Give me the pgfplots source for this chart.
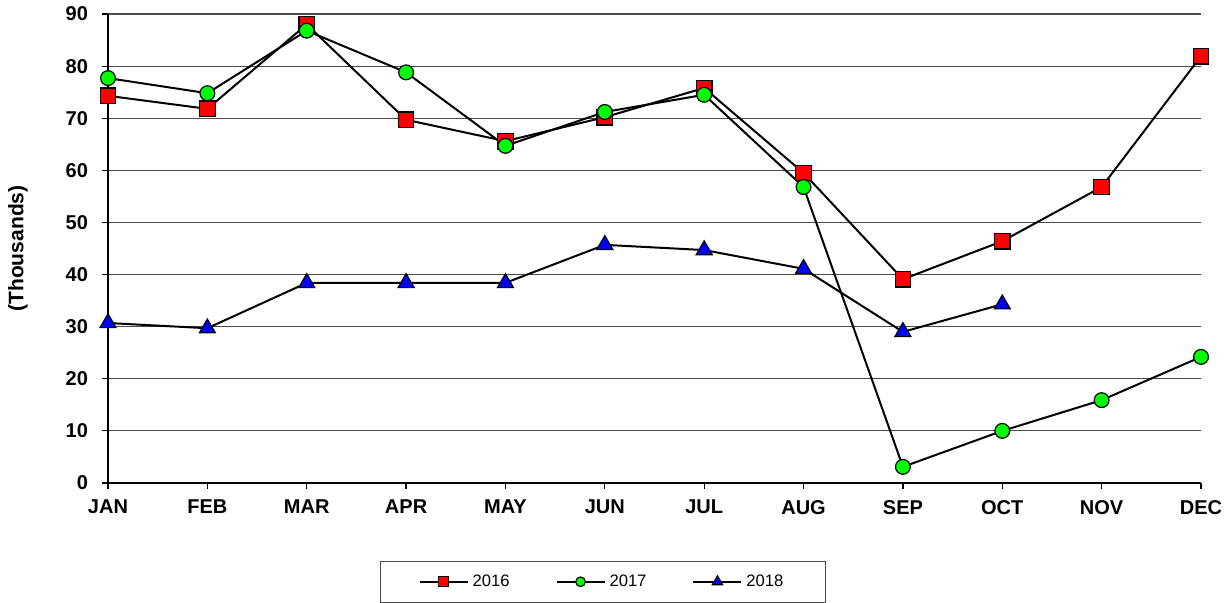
\documentclass[border=0pt]{standalone}
\usepackage{fontspec}
\setmainfont{Liberation Sans}
\usepackage{pgfplots}
\pgfplotsset{compat=1.18}
\begin{document}
\begin{tikzpicture}
\begin{axis}[
  scale only axis,
  width=546.5pt, height=234.5pt,
  at={(0,0)}, anchor=south west,
  xmin=0, xmax=11, ymin=0, ymax=90,
  xtick={0,...,11},
  xticklabels={JAN,FEB,MAR,APR,MAY,JUN,JUL,AUG,SEP,OCT,NOV,DEC},
  ytick={0,10,...,90},
  axis lines=left,
  axis line style={-, black, line width=0.6pt},
  tick align=outside,
  major tick length=3pt,
  tick style={black, line width=0.6pt},
  ymajorgrids,
  grid style={black!70, line width=0.6pt},
  clip=false,
  ticklabel style={font=\fontsize{10}{12}\selectfont\bfseries},
  /pgf/number format/assume math mode=true,
  xticklabel style={yshift=-2pt},
  yticklabel style={xshift=-3.5pt},
  ylabel={(Thousands)},
  ylabel style={font=\fontsize{10.5}{12}\selectfont\bfseries, at={(axis description cs:-0.0823,0.5)}, anchor=center},
  legend columns=3,
  legend style={at={(0.4529,-0.1663)}, anchor=north, draw=black!70, line width=0.5pt,
    font=\fontsize{8.3}{10}\selectfont, inner xsep=19pt, inner ysep=4.5pt,
    /tikz/every even column/.append style={column sep=21pt}},
  legend image code/.code={
    \draw[mark repeat=2,mark phase=2, every mark/.append style={scale=0.65}] plot coordinates {(0pt,0pt) (12pt,0pt) (24pt,0pt)};
  },
]
\addplot[black, line width=1pt, mark=square*, mark size=3.9pt, mark options={fill=red, draw=black, line width=0.6pt}]
coordinates {(0,74.3) (1,71.8) (2,88.0) (3,69.7) (4,65.6) (5,70.2) (6,75.8) (7,59.5) (8,39.1) (9,46.4) (10,56.8) (11,81.9)};
\addlegendentry{2016}
\addplot[black, line width=1pt, mark=*, mark size=3.7pt, mark options={fill=green, draw=black, line width=0.6pt}]
coordinates {(0,77.7) (1,74.8) (2,86.8) (3,78.8) (4,64.7) (5,71.2) (6,74.5) (7,56.8) (8,3.1) (9,10.0) (10,15.9) (11,24.2)};
\addlegendentry{2017}
\addplot[black, line width=1pt, mark=triangle*, mark size=4.6pt, mark options={fill=blue, draw=black, line width=0.6pt}]
coordinates {(0,30.7) (1,29.7) (2,38.4) (3,38.4) (4,38.4) (5,45.7) (6,44.7) (7,41.1) (8,29.0) (9,34.3)};
\addlegendentry{2018}
\end{axis}
\useasboundingbox (-54pt,-60pt) rectangle (560.5pt,241.5pt);
\end{tikzpicture}
\end{document}
